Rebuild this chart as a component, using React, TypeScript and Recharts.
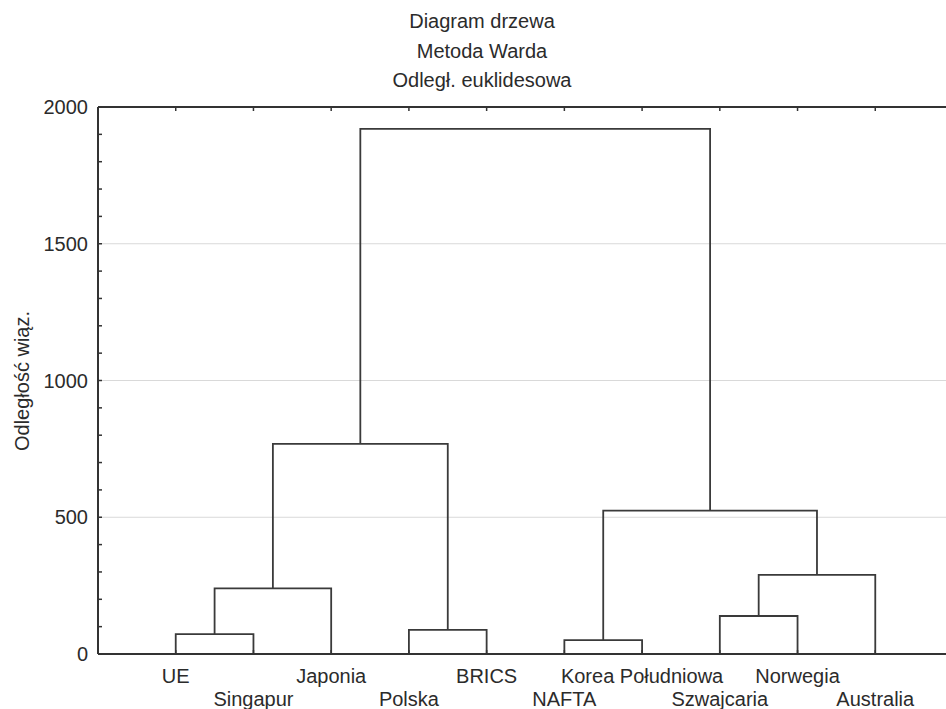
import { ComposedChart, Line, XAxis, YAxis, ReferenceLine } from "recharts";

const FONT = "'Liberation Sans', Arial, sans-serif";

const TITLE_LINES = ["Diagram drzewa", "Metoda Warda", "Odległ. euklidesowa"];
const Y_LABEL = "Odległość wiąz.";

// leaves in dendrogram order
const LEAVES = [
  "UE",
  "Singapur",
  "Japonia",
  "Polska",
  "BRICS",
  "NAFTA",
  "Korea Południowa",
  "Szwajcaria",
  "Norwegia",
  "Australia",
];

// agglomeration steps: cluster id, joined members, linkage distance
const MERGE_IDS = ["c1", "c2", "c3", "c4", "c5", "c6", "c7", "c8", "c9"];
const MERGE_LEFT = ["UE", "c1", "Polska", "c2", "NAFTA", "Szwajcaria", "c6", "c5", "c4"];
const MERGE_RIGHT = ["Singapur", "Japonia", "BRICS", "c3", "Korea Południowa", "Norwegia", "Australia", "c7", "c8"];
const MERGE_HEIGHT = [73, 240, 88, 768, 51, 139, 289, 524, 1920];

const Y_TICKS = [0, 100, 200, 300, 400, 500, 600, 700, 800, 900, 1000, 1100, 1200, 1300, 1400, 1500, 1600, 1700, 1800, 1900, 2000];
const Y_GRID = [500, 1000, 1500];

const INK = "#3a3a3a";
const AXIS = "#333";

// layout of the tree: leaf slots 1..n, clusters centred over their children
const nodes: Record<string, { x: number; y: number }> = {};
LEAVES.forEach((name, i) => {
  nodes[name] = { x: i + 1, y: 0 };
});
const links = MERGE_IDS.map((id, i) => {
  const a = nodes[MERGE_LEFT[i]];
  const b = nodes[MERGE_RIGHT[i]];
  const h = MERGE_HEIGHT[i];
  nodes[id] = { x: (a.x + b.x) / 2, y: h };
  return {
    id,
    points: [
      { x: a.x, y: a.y },
      { x: a.x, y: h },
      { x: b.x, y: h },
      { x: b.x, y: b.y },
    ],
  };
});

const LEAF_TICKS = LEAVES.map((_, i) => i + 1);

function LeafTick(props: any) {
  const { x, y, payload } = props;
  const lower = payload.value % 2 === 0;
  return (
    <g>
      <line x1={x} y1={y} x2={x} y2={y - 4} stroke={AXIS} strokeWidth={1.5} />
      <text
        x={x}
        y={y + (lower ? 52 : 29)}
        textAnchor="middle"
        fontSize={20}
        fontFamily={FONT}
        fill="#2b2b2b"
      >
        {LEAVES[payload.value - 1]}
      </text>
    </g>
  );
}

function TopTick(props: any) {
  const { x, y } = props;
  return <line x1={x} y1={y} x2={x} y2={y + 4} stroke={AXIS} strokeWidth={1.5} />;
}

function ValueTick(props: any) {
  const { x, y, payload } = props;
  const major = payload.value % 500 === 0;
  return (
    <g>
      <line x1={x} y1={y} x2={x + 4} y2={y} stroke={AXIS} strokeWidth={1.5} />
      {major && (
        <text
          x={x - 10}
          y={y}
          dy="0.35em"
          textAnchor="end"
          fontSize={20}
          fontFamily={FONT}
          fill="#2b2b2b"
        >
          {payload.value}
        </text>
      )}
    </g>
  );
}

export default function App() {
  return (
    <div
      style={{
        position: "fixed",
        left: 0,
        top: 0,
        width: 946,
        height: 709,
        overflow: "hidden",
        background: "#fff",
      }}
    >
      <ComposedChart
        width={960}
        height={709}
        margin={{ top: 87, right: 7, bottom: 0, left: 0 }}
      >
        {Y_GRID.map((v) => (
          <ReferenceLine key={v} y={v} stroke="#d9d9d9" strokeWidth={1} />
        ))}
        <XAxis
          dataKey="x"
          type="number"
          domain={[0, 11]}
          ticks={LEAF_TICKS}
          interval={0}
          height={55}
          tickSize={0}
          tickMargin={0}
          tickLine={false}
          axisLine={{ stroke: AXIS, strokeWidth: 2 }}
          tick={<LeafTick />}
          allowDataOverflow
        />
        <XAxis
          xAxisId="top"
          orientation="top"
          dataKey="x"
          type="number"
          domain={[0, 11]}
          ticks={LEAF_TICKS}
          interval={0}
          height={20}
          tickSize={0}
          tickMargin={0}
          tickLine={false}
          axisLine={{ stroke: AXIS, strokeWidth: 2 }}
          tick={<TopTick />}
          allowDataOverflow
        />
        <YAxis
          type="number"
          domain={[0, 2000]}
          ticks={Y_TICKS}
          interval={0}
          width={98}
          tickSize={0}
          tickMargin={0}
          tickLine={false}
          axisLine={{ stroke: AXIS, strokeWidth: 2 }}
          tick={<ValueTick />}
          allowDataOverflow
        />
        {links.map((l) => (
          <Line
            key={l.id}
            data={l.points}
            dataKey="y"
            type="linear"
            stroke={INK}
            strokeWidth={1.8}
            dot={false}
            activeDot={false}
            isAnimationActive={false}
          />
        ))}
      </ComposedChart>
      <svg
        width={946}
        height={709}
        style={{ position: "absolute", left: 0, top: 0, pointerEvents: "none" }}
      >
        {TITLE_LINES.map((t, i) => (
          <text
            key={t}
            x={482}
            y={28 + i * 29.5}
            textAnchor="middle"
            fontSize={20}
            fontFamily={FONT}
            fill="#2b2b2b"
          >
            {t}
          </text>
        ))}
        <text
          transform="translate(29 381) rotate(-90)"
          textAnchor="middle"
          fontSize={20}
          fontFamily={FONT}
          fill="#2b2b2b"
        >
          {Y_LABEL}
        </text>
      </svg>
    </div>
  );
}
